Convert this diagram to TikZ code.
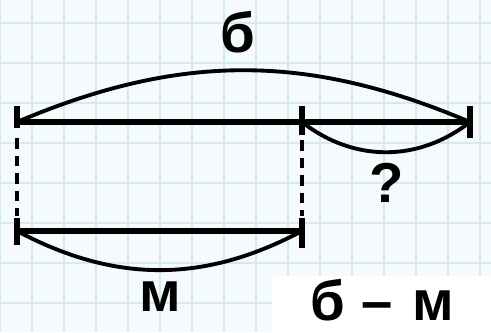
\documentclass[tikz,border=0pt]{standalone}
\usepackage{fontspec}
\setmainfont{Liberation Sans}
\usetikzlibrary{calc}
\definecolor{paper}{HTML}{F5FAFC}
\definecolor{grd}{HTML}{D6E9EF}
\tikzset{
  seg/.style={line width=3.6pt},
  tck/.style={line width=3.4pt},
  arc/.style={line width=2.2pt},
  dsh/.style={line width=2.8pt, dash pattern=on 6pt off 4pt},
  lbl/.style={font=\fontsize{32}{32}\selectfont\bfseries, inner sep=0pt, anchor=base}}
\begin{document}
\begin{tikzpicture}[x=0.02cm, y=-0.02cm]
\useasboundingbox (0,0) rectangle (491,332);
\clip (0,0) rectangle (491,332);
% squared paper
\fill[paper] (0,0) rectangle (491,332);
\foreach \gx in {0,32,...,480} \draw[grd, line width=1.4pt] (\gx,0) -- (\gx,332);
\foreach \gy in {23,63,...,303} \draw[grd, line width=1.4pt] (0,\gy) -- (491,\gy);
% segment ends
\coordinate (A) at (17,122);
\coordinate (B) at (302,122);
\coordinate (C) at (470,122);
\coordinate (D) at (17,231);
\coordinate (E) at (302,231);
% segments and ticks
\draw[seg] (A) -- (C);
\draw[seg] (D) -- (E);
\draw[tck] ($(A)+(0,-16)$) -- ($(A)+(0,6)$);
\draw[tck] ($(B)+(0,-16)$) -- ($(B)+(0,13)$);
\draw[tck] ($(C)+(0,-16)$) -- ($(C)+(0,16)$);
\draw[tck] ($(D)+(0,-13)$) -- ($(D)+(0,14)$);
\draw[tck] ($(E)+(0,-13)$) -- ($(E)+(0,17)$);
\draw[dsh] ($(A)+(0,16)$) -- ($(D)+(0,-15)$);
\draw[dsh] ($(B)+(0,18)$) -- ($(E)+(0,-15)$);
% arcs
\draw[arc] (A) to[bend left=23] (C);
\draw[arc] (B) to[bend right=38] (C);
\draw[arc] (D) to[bend right=28] (E);
% labels
\node[lbl] (lb) at (238,52) {б};
\node[lbl] (lq) at (387,202) {?};
\node[lbl] (lm) at (160,311) {м};
\fill[white] (272,276) rectangle (491,332);
\node[lbl, anchor=base west] (lbm) at (310,320) {б\hspace{0.3em}–\hspace{0.35em}м};
\end{tikzpicture}
\end{document}
